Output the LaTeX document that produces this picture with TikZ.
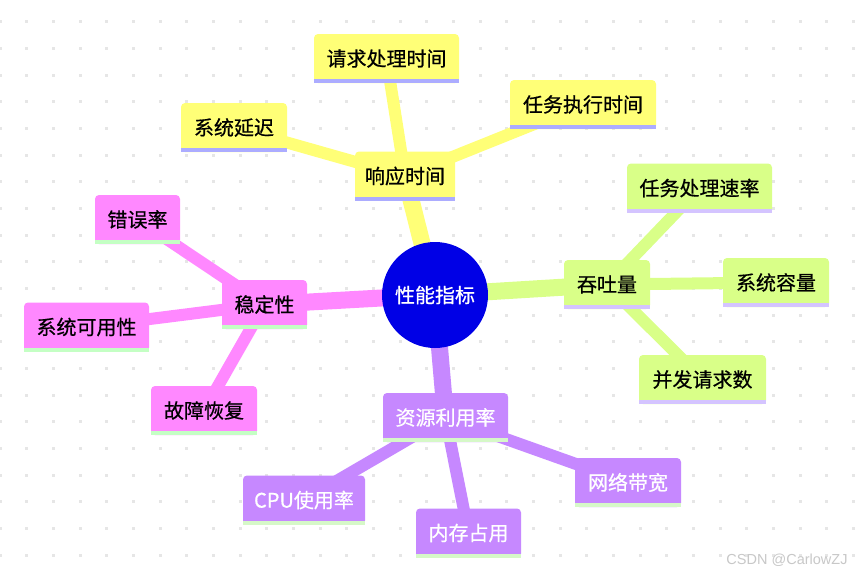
\documentclass[tikz,border=0pt]{standalone}
\usepackage{fontspec}
\setmainfont{Noto Sans CJK SC}[FakeBold=0.6]
\newfontfamily\wmfont{Liberation Sans}
\definecolor{yfill}{RGB}{255,255,119}
\definecolor{ystripe}{RGB}{172,172,255}
\definecolor{gfill}{RGB}{217,255,136}
\definecolor{gstripe}{RGB}{212,196,255}
\definecolor{pfill}{RGB}{255,136,255}
\definecolor{pstripe}{RGB}{196,255,196}
\definecolor{vfill}{RGB}{198,136,255}
\definecolor{vstripe}{RGB}{214,248,200}
\definecolor{rootblue}{RGB}{0,0,230}
\definecolor{dotgray}{RGB}{230,230,230}
\definecolor{wmgray}{RGB}{200,200,200}
\pgfdeclarelayer{gridlayer}
\pgfdeclarelayer{edgelayer}
\pgfsetlayers{gridlayer,edgelayer,main}
\tikzset{
  box/.style={rectangle, rounded corners=4pt, inner sep=0pt, minimum height=49pt, font=\fontsize{20}{22}\selectfont},
  ybox/.style={box, fill=yfill, text=black},
  gbox/.style={box, fill=gfill, text=black},
  pbox/.style={box, fill=pfill, text=black},
  vbox/.style={box, fill=vfill, text=white},
  rootnode/.style={circle, fill=rootblue, text=white, minimum size=106pt, inner sep=0pt, font=\fontsize{20}{22}\selectfont},
  mainedge/.style={line width=17pt},
  subedge/.style={line width=12pt},
}
\newcommand{\stripe}[2]{\fill[#2] (#1.south west) rectangle ([yshift=4pt]#1.south east);}
\begin{document}
\begin{tikzpicture}[x=1pt,y=-1pt]
\useasboundingbox (0,0) rectangle (856,576);
\begin{pgfonlayer}{gridlayer}
\fill[white] (0,0) rectangle (856,576);
\foreach \i in {0,...,32}{
  \foreach \j in {0,...,20}{
    \fill[dotgray] ({\i*26.667-1.5},{21.67+\j*26.667-1.5}) rectangle ++(3,3);
  }
}
\end{pgfonlayer}

% root
\node[rootnode] (root) at (435,295) {性能指标};

% yellow
\node[ybox, minimum width=100pt] (resp) at (405,176) {响应时间};
\node[ybox, minimum width=145pt] (reqt) at (386.5,58.5) {请求处理时间};
\node[ybox, minimum width=106pt] (delay) at (234,127.5) {系统延迟};
\node[ybox, minimum width=146pt] (taskt) at (583,104.5) {任务执行时间};
\stripe{resp}{ystripe}\stripe{reqt}{ystripe}\stripe{delay}{ystripe}\stripe{taskt}{ystripe}

% green
\node[gbox, minimum width=86pt] (thr) at (607,284.5) {吞吐量};
\node[gbox, minimum width=145pt] (rate) at (699.5,188) {任务处理速率};
\node[gbox, minimum width=106pt] (cap) at (776,282.5) {系统容量};
\node[gbox, minimum width=127pt] (conc) at (702.5,379.5) {并发请求数};
\stripe{thr}{gstripe}\stripe{rate}{gstripe}\stripe{cap}{gstripe}\stripe{conc}{gstripe}

% pink
\node[pbox, minimum width=85pt] (stab) at (264.5,304.5) {稳定性};
\node[pbox, minimum width=85pt] (err) at (137.5,219.5) {错误率};
\node[pbox, minimum width=125pt] (avail) at (86.5,327) {系统可用性};
\node[pbox, minimum width=106pt] (recov) at (204,410.5) {故障恢复};
\stripe{stab}{pstripe}\stripe{err}{pstripe}\stripe{avail}{pstripe}\stripe{recov}{pstripe}

% violet
\node[vbox, minimum width=125pt] (res) at (445.5,417.5) {资源利用率};
\node[vbox, minimum width=122pt] (cpu) at (304,500) {CPU使用率};
\node[vbox, minimum width=105pt] (mem) at (468.5,533) {内存占用};
\node[vbox, minimum width=106pt] (net) at (628,482.5) {网络带宽};
\stripe{res}{vstripe}\stripe{cpu}{vstripe}\stripe{mem}{vstripe}\stripe{net}{vstripe}

\begin{pgfonlayer}{edgelayer}
\draw[mainedge, yfill] (root.center) -- (resp.center);
\draw[mainedge, gfill] (root.center) -- (thr.center);
\draw[mainedge, pfill] (root.center) -- (stab.center);
\draw[mainedge, vfill] (root.center) -- (res.center);
\draw[subedge, yfill] (resp.center) -- (reqt.center);
\draw[subedge, yfill] (resp.center) -- (delay.center);
\draw[subedge, yfill] (resp.center) -- (taskt.center);
\draw[subedge, gfill] (thr.center) -- (rate.center);
\draw[subedge, gfill] (thr.center) -- (cap.center);
\draw[subedge, gfill] (thr.center) -- (conc.center);
\draw[subedge, pfill] (stab.center) -- (err.center);
\draw[subedge, pfill] (stab.center) -- (avail.center);
\draw[subedge, pfill] (stab.center) -- (recov.center);
\draw[subedge, vfill] (res.center) -- (cpu.center);
\draw[subedge, vfill] (res.center) -- (mem.center);
\draw[subedge, vfill] (res.center) -- (net.center);
\end{pgfonlayer}

\node[font=\wmfont\fontsize{14.5}{16}\selectfont, text=wmgray, inner sep=0pt] (wm) at (787,560) {CSDN @CarlowZJ};
\end{tikzpicture}
\end{document}
